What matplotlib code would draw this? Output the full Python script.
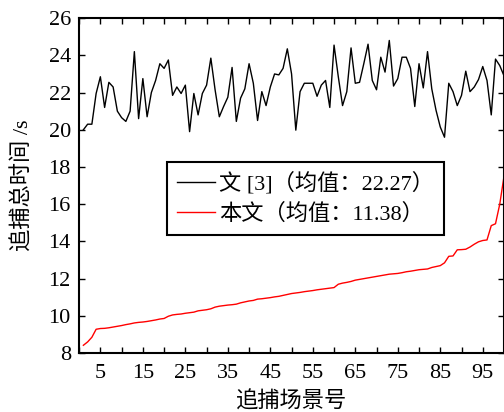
import matplotlib
matplotlib.use("Agg")
import matplotlib.pyplot as plt
import numpy as np
from matplotlib.ticker import MultipleLocator, FixedLocator

plt.rcParams['font.family'] = ['Liberation Serif', 'Noto Sans CJK SC']
plt.rcParams['mathtext.fontset'] = 'stix'

# scene index 1..100
scenes = list(range(1, 101))

# 文[3] total capture time per scene
ref_times = [20.0, 20.3, 20.3, 21.95, 22.85, 21.2, 22.55, 22.3, 21.0, 20.65,
             20.45, 21.0, 24.2, 20.6, 22.75, 20.7, 22.0, 22.65, 23.55, 23.3,
             23.75, 21.85, 22.3, 21.95, 22.4, 19.9, 21.95, 20.8, 21.95, 22.4,
             23.85, 22.15, 20.7, 21.25, 21.75, 23.35, 20.45, 21.7, 22.2, 23.55,
             22.5, 20.5, 22.05, 21.3, 22.3, 23.0, 22.95, 23.3, 24.35, 23.0,
             19.98, 22.05, 22.5, 22.5, 22.5, 21.8, 22.4, 22.65, 21.2, 24.55,
             22.85, 21.3, 22.05, 24.4, 22.5, 22.55, 23.55, 24.6, 22.65, 22.15,
             23.9, 23.1, 24.8, 22.35, 22.75, 23.9, 23.9, 23.3, 21.25, 23.55,
             22.25, 24.2, 22.2, 21.05, 20.15, 19.6, 22.5, 22.05, 21.3, 21.85,
             23.15, 22.05, 22.3, 22.7, 23.4, 22.65, 20.8, 23.8, 23.45, 22.9]

# 本文 total capture time per scene (sorted)
our_times = [8.42, 8.6, 8.85, 9.28, 9.32, 9.33, 9.36, 9.4, 9.44, 9.48,
             9.53, 9.57, 9.62, 9.65, 9.67, 9.7, 9.74, 9.78, 9.83, 9.86,
             9.98, 10.05, 10.08, 10.1, 10.14, 10.17, 10.2, 10.27, 10.3, 10.33,
             10.38, 10.47, 10.52, 10.55, 10.58, 10.6, 10.63, 10.7, 10.75, 10.8,
             10.83, 10.9, 10.92, 10.95, 10.98, 11.02, 11.05, 11.1, 11.15, 11.2,
             11.23, 11.26, 11.3, 11.33, 11.36, 11.4, 11.43, 11.46, 11.49, 11.52,
             11.7, 11.76, 11.8, 11.85, 11.92, 11.96, 12.0, 12.04, 12.08, 12.12,
             12.16, 12.2, 12.24, 12.26, 12.28, 12.32, 12.37, 12.4, 12.44, 12.48,
             12.5, 12.52, 12.6, 12.65, 12.7, 12.85, 13.2, 13.22, 13.55, 13.56,
             13.58, 13.7, 13.85, 13.98, 14.05, 14.08, 14.85, 14.95, 16.0, 17.5]

labels = ['文 [3]（均值：22.27）', '本文（均值：11.38）']

fig = plt.figure(figsize=(5.04, 4.12), dpi=100)
ax = fig.add_axes([0.157, 0.143, 0.843, 0.813])

ax.plot(scenes, ref_times, color='black', lw=1.0, label=labels[0])
ax.plot(scenes, our_times, color='#ff0000', lw=1.0, label=labels[1])

ax.set_xlim(0, 100)
ax.set_ylim(8, 26)
ax.xaxis.set_major_locator(FixedLocator(list(range(5, 100, 10))))
ax.xaxis.set_minor_locator(FixedLocator(list(range(0, 101, 10))))
ax.yaxis.set_major_locator(MultipleLocator(2))

ax.tick_params(which='both', direction='in', top=True, right=True,
               width=1.0, labelsize=16)
ax.tick_params(axis='x', pad=8)
ax.tick_params(axis='y', pad=6)
ax.tick_params(which='major', length=4)
ax.tick_params(which='minor', length=4)
for s in ax.spines.values():
    s.set_linewidth(1.5)

ax.set_xlabel('追捕场景号', fontsize=16, labelpad=6)
ax.set_ylabel('追捕总时间 /s', fontsize=16, labelpad=11)

leg = ax.legend(loc='upper left', bbox_to_anchor=(0.207, 0.57), fontsize=16,
                fancybox=False, framealpha=1, edgecolor='black',
                borderpad=0.45, handlelength=1.7, handletextpad=0.2,
                labelspacing=0.4, borderaxespad=0)
leg.get_frame().set_linewidth(1.5)

fig.savefig('out.png', dpi=100)
